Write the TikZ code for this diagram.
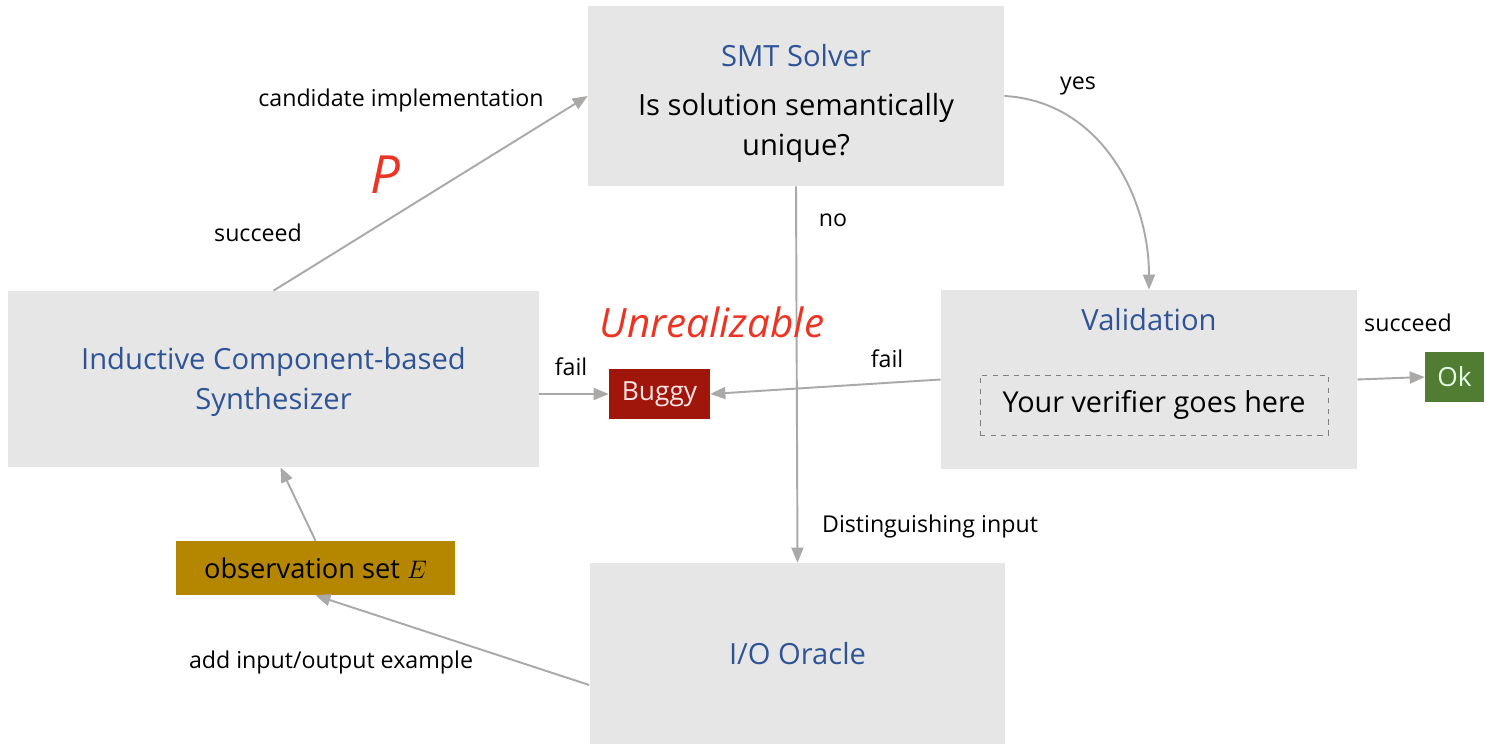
\documentclass[tikz,border=0pt]{standalone}
\usepackage{fontspec}
\setmainfont{Open Sans}
\usetikzlibrary{positioning,arrows.meta}
\definecolor{BoxGray}{RGB}{231,230,230}
\definecolor{TitleBlue}{RGB}{47,84,150}
\definecolor{ArrowGray}{RGB}{171,168,168}
\definecolor{BuggyRed}{RGB}{160,22,10}
\definecolor{OkGreen}{RGB}{80,125,50}
\definecolor{ObsGold}{RGB}{181,134,0}
\definecolor{InkRed}{RGB}{236,52,36}

\begin{document}
\begin{tikzpicture}[
    x=0.02cm, y=-0.02cm,
    font=\fontsize{13.2}{15}\selectfont,
    >={Triangle[length=3mm,width=2.4mm]},
    stage/.style={
        fill=BoxGray,
        minimum width=8.32cm,
        minimum height=3.6cm,
        align=center,
        inner sep=0pt
    },
    title/.style={
        text=TitleBlue,
        font=\fontsize{16.6}{23}\selectfont
    },
    tag/.style={
        minimum height=1cm,
        inner sep=0pt,
        font=\fontsize{15}{17}\selectfont
    },
    arrow/.style={
        ->,
        line width=1.1pt,
        draw=ArrowGray
    },
    lbl/.style={inner sep=0pt},
    ink/.style={
        text=InkRed,
        inner sep=0pt
    }
]
\useasboundingbox (0,0) rectangle (1487,744);

\node[stage] (smt) at (796,96) {};
\node[title] (smttitle) at (796,56) {SMT Solver};
\node[align=center, font=\fontsize{16.6}{23}\selectfont] (smtq) at (796,128) {Is solution semantically\\unique?};

\node[stage, minimum width=10.62cm, minimum height=3.52cm] (synth) at (273.5,379) {};
\node[title, align=center] (synthtitle) at (273.5,382) {Inductive Component-based\\Synthesizer};

\node[stage, minimum height=3.58cm] (val) at (1149,379.5) {};
\node[title] (valtitle) at (1149,320) {Validation};
\node[draw=gray, dashed, minimum width=6.96cm, minimum height=1.2cm, font=\fontsize{16.4}{18}\selectfont] (verifier) at (1154,405) {Your verifier goes here};

\node[stage, title, minimum height=3.62cm] (oracle) at (797.5,653.5) {I/O Oracle};

\node[tag, fill=BuggyRed, text=red!10, minimum width=2.02cm] (buggy) at (659.5,394) {Buggy};
\node[tag, fill=OkGreen, text=white!90!green, minimum width=1.18cm] (ok) at (1454.5,377) {Ok};
\node[fill=ObsGold, minimum width=5.58cm, minimum height=1.08cm, font=\fontsize{15.5}{17}\selectfont] (obs) at (315.5,568) {observation set $E$};

\draw[arrow] (synth.north) -- (smt.west);
\draw[arrow] (smt.east) to[out=-3,in=90] (val.north);
\draw[arrow] (smt.south) -- (oracle.north);
\draw[arrow] (synth.east |- buggy.west) -- (buggy.west);
\draw[arrow] (val.west) -- (buggy.east);
\draw[arrow] (val.east) -- (ok.west);
\draw[arrow] ([yshift=-0.63cm]oracle.west) -- (obs.south);
\draw[arrow] (obs.north) -- ([xshift=0.14cm]synth.south);

\node[lbl] (candlbl) at (401,100) {candidate implementation};
\node[lbl] (succlbl) at (258,233) {succeed};
\node[lbl] (nolbl) at (833,220) {no};
\node[lbl] (yeslbl) at (1078,86) {yes};
\node[lbl] (faillbl) at (571,367) {fail};
\node[lbl] (fail2lbl) at (887,359) {fail};
\node[lbl] (oklbl) at (1408,323) {succeed};
\node[lbl] (distlbl) at (930,526) {Distinguishing input};
\node[lbl] (addlbl) at (331,662) {add input/output example};

\node[ink, font=\itshape\fontsize{30}{30}\selectfont] (plbl) at (385,175) {P};
\node[ink, font=\itshape\fontsize{23}{23}\selectfont] (unreal) at (712,322) {Unrealizable};

\end{tikzpicture}
\end{document}
